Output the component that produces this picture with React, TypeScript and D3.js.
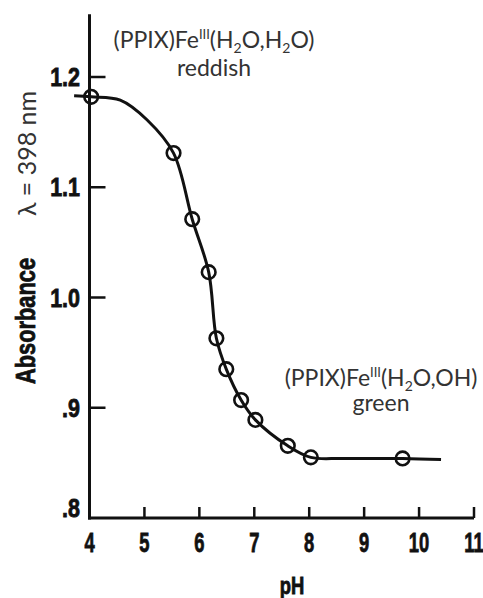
import React from "react";
import * as d3 from "d3";

// Absorbance at 398 nm vs pH for (PPIX)Fe(III)
const measPH = [4.03, 5.53, 5.87, 6.17, 6.31, 6.49, 6.76, 7.02, 7.61, 8.03, 9.7];
const measAbs = [1.182, 1.131, 1.071, 1.023, 0.963, 0.935, 0.907, 0.889, 0.8655, 0.855, 0.854];

// Drawn titration curve
const fitPH = [3.72, 4.03, 4.56, 5.05, 5.53, 5.87, 6.17, 6.31, 6.49, 6.76, 7.02, 7.61, 8.03, 8.6, 9.7, 10.4];
const fitAbs = [1.183, 1.182, 1.179, 1.161, 1.131, 1.071, 1.023, 0.963, 0.935, 0.907, 0.889, 0.8655, 0.855, 0.854, 0.854, 0.853];

const xTicks = [4, 5, 6, 7, 8, 9, 10, 11];
const xTickLabels = ["4", "5", "6", "7", "8", "9", "10", "11"];
const yTicks = [0.8, 0.9, 1.0, 1.1, 1.2];
const yTickLabels = [".8", ".9", "1.0", "1.1", "1.2"];

const W = 483;
const H = 598;
const INK = "#111";
const GREY = "#333";
const COND = "'Liberation Sans', 'DejaVu Sans', sans-serif";
const HUM = "Lato, 'Open Sans', sans-serif";

export default function App() {
  const x = d3.scaleLinear().domain([4, 11]).range([89.5, 474]);
  const y = d3.scaleLinear().domain([0.8, 1.2]).range([518, 77]);

  const fit = fitPH.map((p, i) => [p, fitAbs[i]] as [number, number]);
  const line = d3
    .line<[number, number]>()
    .x((d) => x(d[0]))
    .y((d) => y(d[1]))
    .curve(d3.curveCatmullRom.alpha(0.5));

  const y0 = y(0.8);
  const yTop = y(1.257);

  return (
    <svg
      width={W}
      height={H}
      style={{ position: "absolute", left: 0, top: 0, background: "#fff" }}
    >
      {/* axes */}
      <line x1={x(4)} x2={x(4)} y1={yTop} y2={y0 + 1.5} stroke={INK} strokeWidth={3} />
      <line x1={x(4) - 1.5} x2={x(11)} y1={y0} y2={y0} stroke={INK} strokeWidth={3} />
      {xTicks.slice(1).map((t) => (
        <line key={"xt" + t} x1={x(t)} x2={x(t)} y1={y0} y2={y0 - 11} stroke={INK} strokeWidth={2.5} />
      ))}
      {yTicks.slice(1).map((t) => (
        <line key={"yt" + t} x1={x(4)} x2={x(4) + 16} y1={y(t)} y2={y(t)} stroke={INK} strokeWidth={2.5} />
      ))}

      {/* tick labels */}
      {xTicks.map((t, i) => (
        <text
          key={"xl" + t}
          transform={`translate(${x(t)},552) scale(0.68,1)`}
          textAnchor="middle"
          fontFamily={COND}
          fontWeight="bold"
          fontSize={27}
          fill={INK}
          stroke={INK}
          strokeWidth={0.8}
        >
          {xTickLabels[i]}
        </text>
      ))}
      {yTicks.map((t, i) => (
        <text
          key={"yl" + t}
          transform={`translate(80,${y(t) + (t === 0.8 ? -1 : 9)}) scale(0.86,1)`}
          textAnchor="end"
          fontFamily={COND}
          fontWeight="bold"
          fontSize={25}
          fill={INK}
          stroke={INK}
          strokeWidth={0.8}
        >
          {yTickLabels[i]}
        </text>
      ))}

      {/* axis titles */}
      <text
        transform="translate(292,594) scale(0.8,1)"
        textAnchor="middle"
        fontFamily={COND}
        fontWeight="bold"
        fontSize={23}
        fill={INK}
        stroke={INK}
        strokeWidth={0.8}
      >
        pH
      </text>
      <text
        transform="translate(35,321) rotate(-90) scale(0.78,1)"
        textAnchor="middle"
        fontFamily={COND}
        fontWeight="bold"
        fontSize={28}
        fill={INK}
        stroke={INK}
        strokeWidth={0.8}
      >
        Absorbance
      </text>
      <text
        transform="translate(36,153.5) rotate(-90)"
        textAnchor="middle"
        fontFamily={HUM}
        fontSize={25}
        fill={GREY}
      >
        λ = 398 nm
      </text>

      {/* curve and measured points */}
      <path d={line(fit) ?? ""} fill="none" stroke={INK} strokeWidth={3} />
      {measPH.map((p, i) => (
        <circle
          key={"m" + i}
          cx={x(p)}
          cy={y(measAbs[i])}
          r={6.8}
          fill="none"
          stroke={INK}
          strokeWidth={2.6}
        />
      ))}

      {/* species annotations */}
      <text x={214} y={48} textAnchor="middle" fontFamily={HUM} fontSize={23} fill={GREY}>
        (PPIX)Fe
        <tspan fontSize={13} dy={-9}>III</tspan>
        <tspan dy={9}>(H</tspan>
        <tspan fontSize={14} dy={5}>2</tspan>
        <tspan dy={-5}>O,H</tspan>
        <tspan fontSize={14} dy={5}>2</tspan>
        <tspan dy={-5}>O)</tspan>
      </text>
      <text x={214} y={76} textAnchor="middle" fontFamily={HUM} fontSize={23} fill={GREY}>
        reddish
      </text>
      <text x={381} y={386} textAnchor="middle" fontFamily={HUM} fontSize={23} fill={GREY}>
        (PPIX)Fe
        <tspan fontSize={13} dy={-9}>III</tspan>
        <tspan dy={9}>(H</tspan>
        <tspan fontSize={14} dy={5}>2</tspan>
        <tspan dy={-5}>O,OH)</tspan>
      </text>
      <text x={381} y={411} textAnchor="middle" fontFamily={HUM} fontSize={23} fill={GREY}>
        green
      </text>
    </svg>
  );
}
